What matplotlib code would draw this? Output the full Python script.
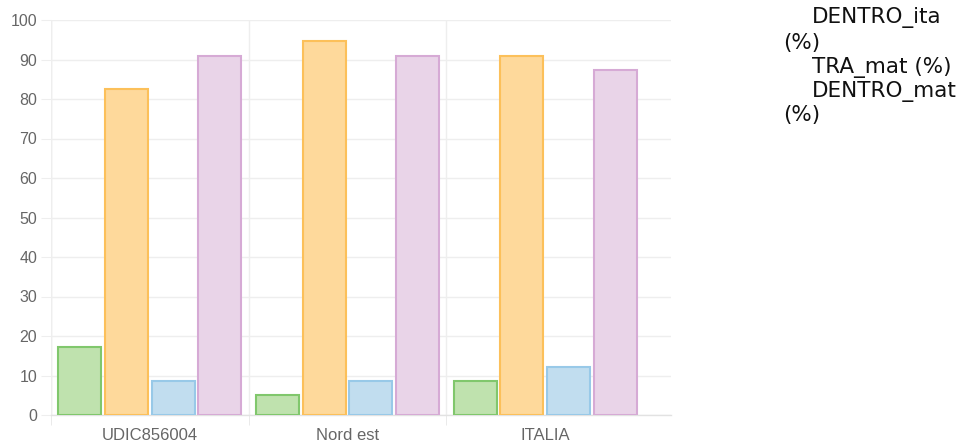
import matplotlib
matplotlib.use("Agg")
import matplotlib.pyplot as plt
import numpy as np

categories = ["UDIC856004", "Nord est", "ITALIA"]
series_names = ["TRA_ita (%)", "DENTRO_ita (%)", "TRA_mat (%)", "DENTRO_mat (%)"]
tra_ita = [17.2, 5.0, 8.6]
dentro_ita = [82.5, 94.7, 90.9]
tra_mat = [8.6, 8.6, 12.2]
dentro_mat = [90.9, 90.9, 87.3]
legend_lines = [("DENTRO_ita", 812), ("(%)", 783), ("TRA_mat (%)", 812), ("DENTRO_mat", 812), ("(%)", 783)]

fills = ["#bfe2ae", "#fed99b", "#c1ddef", "#e9d4e8"]
edges = ["#80c76c", "#fcc05a", "#98c9e8", "#d6aad5"]

W, H = 965, 441
fig = plt.figure(figsize=(W / 100, H / 100), dpi=100)
ax = fig.add_axes([51 / W, 1 - 415 / H, (671 - 51) / W, (415 - 20) / H])

x = np.arange(len(categories))
bw = 43 / 198
pitch = 46.7 / 198
offsets = [-1.5 * pitch, -0.5 * pitch, 0.5 * pitch, 1.5 * pitch]
for vals, off, fc, ec, name in zip([tra_ita, dentro_ita, tra_mat, dentro_mat], offsets, fills, edges, series_names):
    ax.bar(x + off, vals, width=bw, color=fc, edgecolor=ec, linewidth=1.5, label=name, zorder=3)

ax.set_xlim(-0.5, 2.5 + 27 / 198)
ax.set_ylim(0, 100)
ax.set_yticks(range(0, 101, 10))
ax.set_xticks(x)
ax.set_xticklabels(categories)
ax.set_xticks([-0.5, 0.5, 1.5], minor=True)

for s in ["top", "right", "left"]:
    ax.spines[s].set_visible(False)
ax.spines["bottom"].set_color("#e2e2e2")
ax.spines["bottom"].set_linewidth(1)

ax.grid(axis="y", color="#eeeeee", linewidth=1, zorder=0)
ax.grid(axis="x", which="minor", color="#eeeeee", linewidth=1, zorder=0)
ax.axvline(-0.5, color="#e6e6e6", linewidth=1, zorder=0)

ax.tick_params(axis="y", length=7, color="#eeeeee", labelsize=11.5, labelcolor="#666666", pad=3)
ax.tick_params(axis="x", which="major", length=0, labelsize=12, labelcolor="#666666", pad=9)
ax.tick_params(axis="x", which="minor", length=7, color="#e6e6e6")
for lab in ax.get_xticklabels() + ax.get_yticklabels():
    lab.set_fontfamily("Liberation Sans")

ys = [17, 43, 68, 92, 115]
for (txt, xp), yp in zip(legend_lines, ys):
    fig.text(xp / W, 1 - yp / H, txt, fontsize=15.5, family="DejaVu Sans", color="#111111",
             ha="left", va="center")

fig.savefig("out.png", dpi=100, facecolor="white")
